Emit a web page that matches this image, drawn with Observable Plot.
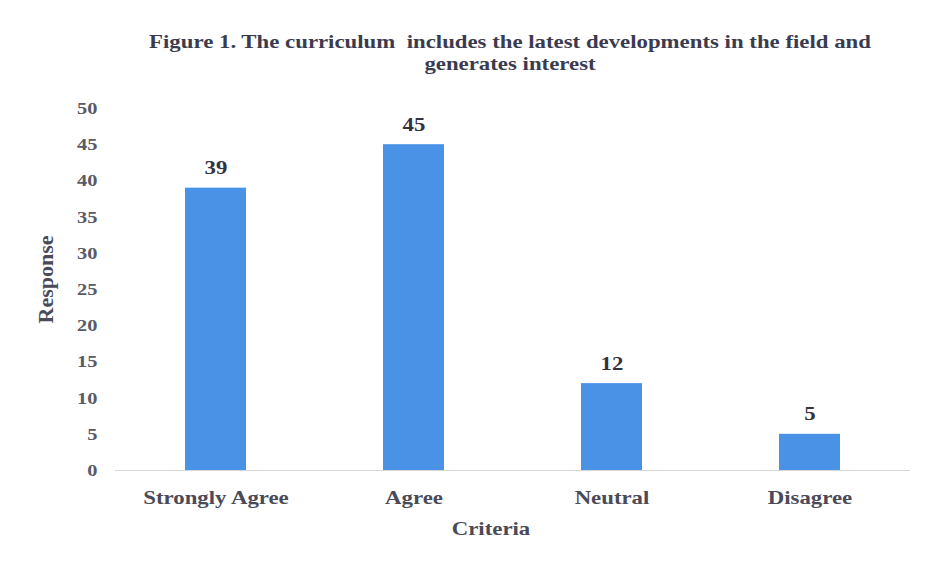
<!DOCTYPE html>
<html>
<head>
<meta charset="utf-8">
<script src="https://cdn.jsdelivr.net/npm/d3@7"></script>
<script src="https://cdn.jsdelivr.net/npm/@observablehq/plot@0.6"></script>
<style>
  html, body { margin: 0; padding: 0; background: #fff; }
  #chart svg { display: block; }
</style>
</head>
<body>
<div id="chart"></div>
<script>
const categories = ["Strongly Agree", "Agree", "Neutral", "Disagree"];
const responses = [39, 45, 12, 5];
const yTicks = [0, 5, 10, 15, 20, 25, 30, 35, 40, 45, 50];
const titleLines = ["Figure 1. The curriculum  includes the latest developments in the field and", "generates interest"];
const xLabel = "Criteria";
const yLabel = "Response";

const data = categories.map((c, i) => ({criteria: c, response: responses[i]}));
const serif = "'Liberation Serif', 'Times New Roman', serif";
const STRETCH = 1.2; // the reference text is horizontally widened

const chart = Plot.plot({
  width: 927,
  height: 571,
  marginTop: 108,
  marginBottom: 101,
  marginLeft: 115,
  marginRight: 17,
  style: {fontFamily: serif, background: "#fff", overflow: "visible"},
  x: {domain: categories, paddingInner: 0.69, paddingOuter: 0.345, label: null},
  y: {domain: [0, 50], ticks: yTicks, label: null},
  marks: [
    Plot.ruleY([0], {stroke: "#d6d6d6", strokeWidth: 1}),
    Plot.barY(data, {x: "criteria", y: "response", fill: "#4A92E6"}),
    Plot.text(data, {x: "criteria", y: "response", text: d => String(d.response), dy: -20, fontSize: 19, fontWeight: "bold", fill: "#333340"}),
    Plot.axisY({ticks: yTicks, tickSize: 0, tickPadding: 18, fontSize: 17, fontWeight: "bold", color: "#5a5a66", label: null}),
    Plot.axisX({tickSize: 0, tickPadding: 20, fontSize: 19, fontWeight: "bold", color: "#4a4a58", label: null}),
    Plot.text([titleLines[0]], {frameAnchor: "top", lineAnchor: "middle", dx: -3, dy: -67, fontSize: 19, fontWeight: "bold", fill: "#3b3b50"}),
    Plot.text([titleLines[1]], {frameAnchor: "top", lineAnchor: "middle", dx: -3, dy: -45, fontSize: 19, fontWeight: "bold", fill: "#3b3b50"}),
    Plot.text([xLabel], {frameAnchor: "bottom", lineAnchor: "middle", dx: -22, dy: 58, fontSize: 19, fontWeight: "bold", fill: "#4a4a58"}),
    Plot.text([yLabel], {frameAnchor: "left", textAnchor: "middle", lineAnchor: "middle", dx: -70, dy: -10, rotate: -90, fontSize: 22, fontWeight: "bold", fill: "#4a4a58"})
  ]
});
document.getElementById("chart").appendChild(chart);

// widen horizontal texts to mimic the reference's stretched lettering
chart.querySelectorAll("text").forEach(t => {
  const tr = t.getAttribute("transform") || "";
  const parentTr = (t.parentNode.getAttribute && t.parentNode.getAttribute("transform")) || "";
  if (tr.includes("rotate") || parentTr.includes("rotate")) return;
  const len = t.getComputedTextLength();
  if (len > 0) {
    t.setAttribute("textLength", (len * STRETCH).toFixed(1));
    t.setAttribute("lengthAdjust", "spacingAndGlyphs");
  }
});
</script>
</body>
</html>
